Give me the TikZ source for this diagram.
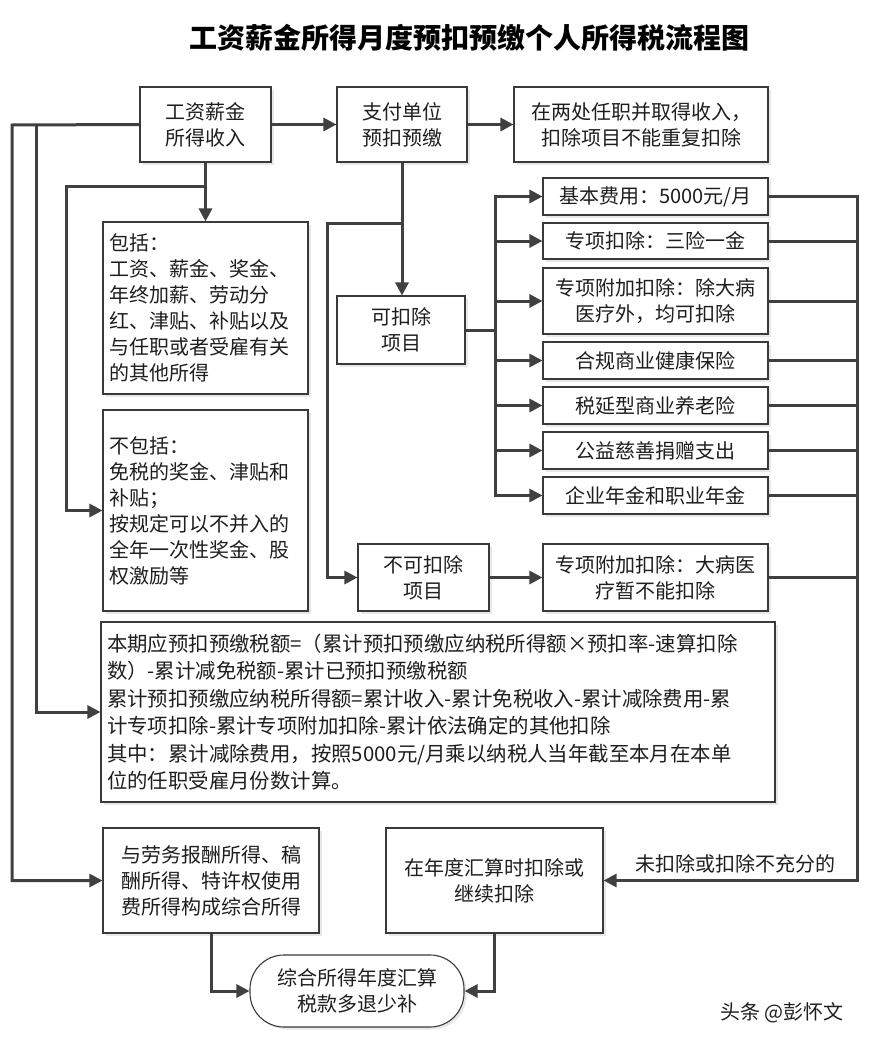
\documentclass[tikz,border=0pt]{standalone}
\usepackage{fontspec}
\setmainfont{Noto Sans CJK SC}
\usetikzlibrary{arrows.meta,shadows}
\definecolor{linec}{HTML}{404040}
\definecolor{boxc}{HTML}{3A3A3A}
\definecolor{txtc}{HTML}{1E1E1E}
\begin{document}
\begin{tikzpicture}[x=1pt,y=-1pt,
  box/.style={draw=boxc, line width=1.1pt, fill=white, inner sep=0pt, align=center, text=txtc,
    font=\fontsize{20}{26}\selectfont,
    drop shadow={shadow xshift=2.5pt, shadow yshift=-2.5pt, fill=black!9, opacity=1}},
  lbox/.style={box, align=left, inner xsep=6pt},
  conn/.style={draw=linec, line width=3pt},
  arr/.style={conn, -{Triangle[length=13pt,width=13pt]}}]
\useasboundingbox[fill=white] (0,0) rectangle (872,1044);

\node[font=\bfseries\fontsize{28}{31}\selectfont, text=black] (title) at (469,38) {工资薪金所得月度预扣预缴个人所得税流程图};

% top row
\node[box, minimum width=131pt, minimum height=75pt] (A) at (205.5,124.5) {工资薪金\\所得收入};
\node[box, minimum width=130pt, minimum height=75pt] (B) at (402,124.5) {支付单位\\预扣预缴};
\node[box, minimum width=254pt, minimum height=75pt] (C) at (641,124.5) {在两处任职并取得收入，\\扣除项目不能重复扣除};

% left column
\node[lbox, minimum width=205pt, minimum height=172pt, text width=193pt] (inc) at (205.5,308)
  {包括：\\工资、薪金、奖金、\\年终加薪、劳动分\\红、津贴、补贴以及\\与任职或者受雇有关\\的其他所得};
\node[lbox, minimum width=205pt, minimum height=201pt, text width=193pt] (exc) at (205.5,510.5)
  {不包括：\\免税的奖金、津贴和\\补贴；\\按规定可以不并入的\\全年一次性奖金、股\\权激励等};

% middle
\node[box, minimum width=128pt, minimum height=68pt] (ded) at (401,330) {可扣除\\项目};
\node[box, minimum width=131pt, minimum height=67pt] (nded) at (423.5,577.5) {不可扣除\\项目};

% right boxes
\node[box, minimum width=225pt, minimum height=37pt] (r1) at (655.5,196.5) {基本费用：5000元/月};
\node[box, minimum width=225pt, minimum height=36pt] (r2) at (655.5,241) {专项扣除：三险一金};
\node[box, minimum width=225pt, minimum height=66pt] (r3) at (655.5,301) {专项附加扣除：除大病\\医疗外，均可扣除};
\node[box, minimum width=225pt, minimum height=37pt] (r4) at (655.5,360.5) {合规商业健康保险};
\node[box, minimum width=225pt, minimum height=37pt] (r5) at (655.5,405.5) {税延型商业养老险};
\node[box, minimum width=225pt, minimum height=37pt] (r6) at (655.5,450.5) {公益慈善捐赠支出};
\node[box, minimum width=225pt, minimum height=37pt] (r7) at (655.5,495.5) {企业年金和职业年金};
\node[box, minimum width=225pt, minimum height=67pt] (r8) at (655.5,577.5) {专项附加扣除：大病医\\疗暂不能扣除};

% formula
\node[lbox, minimum width=674pt, minimum height=180pt, text width=662pt, font=\fontsize{20.4}{27.5}\selectfont] (form) at (438,712)
  {本期应预扣预缴税额=（累计预扣预缴应纳税所得额×预扣率-速算扣除\\数）-累计减免税额-累计已预扣预缴税额\\累计预扣预缴应纳税所得额=累计收入-累计免税收入-累计减除费用-累\\计专项扣除-累计专项附加扣除-累计依法确定的其他扣除\\其中：累计减除费用，按照5000元/月乘以纳税人当年截至本月在本单\\位的任职受雇月份数计算。};

% bottom
\node[box, minimum width=216pt, minimum height=105pt] (lab) at (211,880.5) {与劳务报酬所得、稿\\酬所得、特许权使用\\费所得构成综合所得};
\node[box, minimum width=217pt, minimum height=105pt] (ann) at (494.5,880.5) {在年度汇算时扣除或\\继续扣除};
\node[box, rounded corners=34pt, minimum width=214pt, minimum height=72pt] (oval) at (357,991) {综合所得年度汇算\\税款多退少补};

\node[font=\fontsize{20}{24}\selectfont, text=txtc] (lbl) at (735,864) {未扣除或扣除不充分的};
\node[font=\fontsize{20}{24}\selectfont, text=txtc] (wm) at (782,1013) {头条 @彭怀文};

% coordinates
\coordinate (L1) at (12,125);
\coordinate (L2) at (36,125);
\coordinate (L3) at (66,186);
\coordinate (J1) at (206,186);
\coordinate (J2) at (401,223);
\coordinate (L4) at (327,223);
\coordinate (L5) at (495,331);
\coordinate (L6) at (857,197);

% connectors
\draw[arr] (A.east) -- (B.west);
\draw[arr] (B.east) -- (C.west);
\draw[arr] (A.south) -- (inc.north);
\draw[arr] (A.south |- J1) -- (L3) -- (L3 |- exc.west) -- (exc.west);
\draw[arr] (A.west) -- (L1) -- (L1 |- lab.west) -- (lab.west);
\draw[arr] (L2) -- (L2 |- form.west) -- (form.west);
\draw[arr] (B.south) -- (B.south |- ded.north);
\draw[arr] (B.south |- J2) -- (L4) -- (L4 |- nded.west) -- (nded.west);
\draw[conn] (ded.east) -- (ded.east -| L5);
\draw[arr] (L5 |- r7.west) -- (L5 |- r1.west) -- (r1.west);
\draw[arr] (L5 |- r1.west) -- (L5 |- r7.west) -- (r7.west);
\foreach \r in {r2,r3,r4,r5,r6} { \draw[arr] (L5 |- \r.west) -- (\r.west); }
\draw[arr] (nded.east) -- (r8.west);
\foreach \r in {r2,r3,r4,r5,r6,r7,r8} { \draw[conn] (\r.east) -- (\r.east -| L6); }
\draw[arr] (r1.east) -- (r1.east -| L6) -- (L6 |- ann.east) -- (ann.east);
\draw[arr] (lab.south) |- (oval.west);
\draw[arr] (ann.south) |- (oval.east);
\end{tikzpicture}
\end{document}
